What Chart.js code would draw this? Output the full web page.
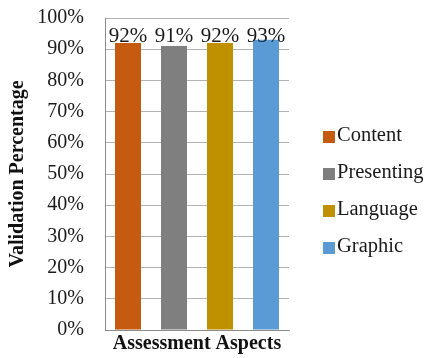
<!DOCTYPE html>
<html lang="en">

<head>
    <meta charset="UTF-8">
    <title>Validation Percentage</title>
    <style>
        html, body {
            margin: 0;
            padding: 0;
            background-color: #fff;
        }

        .chart-container {
            width: 431px;
            height: 358px;
        }
    </style>
</head>

<body>
    <div class="chart-container">
        <canvas id="validation-chart"></canvas>
    </div>
    <script src="https://cdn.jsdelivr.net/npm/chart.js"></script>
    <script>
    const aspects = ['Content', 'Presenting', 'Language', 'Graphic'];
    const percentages = [92, 91, 92, 93];
    const aspectColors = ['#C55A11', '#7F7F7F', '#BF9000', '#5B9BD5'];
    const yTicks = [0, 10, 20, 30, 40, 50, 60, 70, 80, 90, 100];

    const serif = '"Liberation Serif", "Times New Roman", serif';

    // value labels above the bars, all on one line like the original
    const valueLabels = {
        id: 'valueLabels',
        afterDatasetsDraw(chart) {
            const ctx = chart.ctx;
            const baseY = chart.scales.y.getPixelForValue(Math.max(...percentages)) + 2;
            ctx.save();
            ctx.font = '21px ' + serif;
            ctx.fillStyle = '#1a1a1a';
            ctx.textAlign = 'center';
            ctx.textBaseline = 'alphabetic';
            chart.data.datasets.forEach((ds, i) => {
                const bar = chart.getDatasetMeta(i).data[0];
                ctx.fillText(ds.data[0] + '%', bar.x, baseY);
            });
            ctx.restore();
        }
    };

    // legend to the right, square swatch right next to its text
    const sideLegend = {
        id: 'sideLegend',
        afterDraw(chart) {
            const ctx = chart.ctx;
            const x = chart.chartArea.right + 34;
            const rowGap = 37;
            const startY = 136;
            ctx.save();
            ctx.font = '20.5px ' + serif;
            ctx.textBaseline = 'middle';
            chart.data.datasets.forEach((ds, i) => {
                const y = startY + i * rowGap;
                ctx.fillStyle = ds.backgroundColor;
                ctx.fillRect(x, y - 5, 12, 12);
                ctx.fillStyle = '#1a1a1a';
                ctx.fillText(ds.label, x + 14, y);
            });
            ctx.restore();
        }
    };

    const ctx = document.getElementById('validation-chart').getContext('2d');
    new Chart(ctx, {
        type: 'bar',
        data: {
            labels: [''],
            datasets: aspects.map((name, i) => ({
                label: name,
                data: [percentages[i]],
                backgroundColor: aspectColors[i],
                borderWidth: 0,
            })),
        },
        options: {
            responsive: true,
            maintainAspectRatio: false,
            animation: false,
            categoryPercentage: 1.0,
            barPercentage: 0.565,
            layout: {
                padding: { left: 2, right: 142, top: 18, bottom: 0 },
            },
            plugins: {
                legend: { display: false },
                tooltip: { enabled: false },
            },
            scales: {
                x: {
                    grid: { display: false },
                    border: { color: '#8c8c8c', width: 1 },
                    ticks: { display: false },
                    title: {
                        display: true,
                        text: 'Assessment Aspects',
                        color: '#111',
                        font: { family: serif, size: 20, weight: 'bold' },
                        padding: { top: 2, bottom: 2 },
                    },
                    afterFit(axis) {
                        axis.height = 28;
                        axis.paddingLeft = 0;
                        axis.paddingRight = 0;
                    },
                },
                y: {
                    min: 0,
                    max: 100,
                    afterBuildTicks(axis) {
                        axis.ticks = yTicks.map(v => ({ value: v }));
                    },
                    grid: { color: '#b3b3b3', drawTicks: false },
                    border: { color: '#8c8c8c', width: 1 },
                    ticks: {
                        padding: 21,
                        color: '#1a1a1a',
                        font: { family: serif, size: 20 },
                        callback: v => v + '%',
                    },
                    title: {
                        display: true,
                        text: 'Validation Percentage',
                        color: '#111',
                        font: { family: serif, size: 20, weight: 'bold' },
                        padding: { top: 4, bottom: 4 },
                    },
                    afterFit(axis) {
                        axis.width = 103;
                        axis.paddingTop = 0;
                        axis.paddingBottom = 0;
                    },
                },
            },
        },
        plugins: [valueLabels, sideLegend],
    });
    </script>
</body>

</html>
